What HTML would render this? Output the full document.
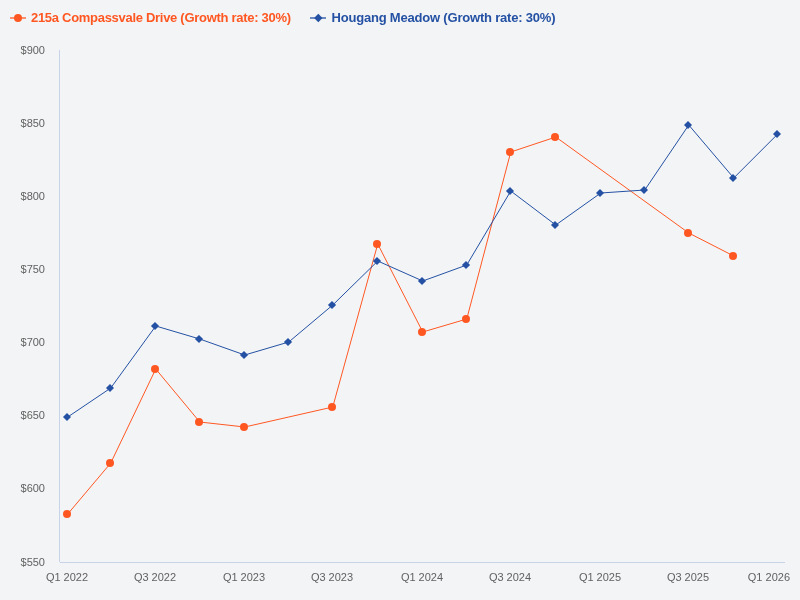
<!DOCTYPE html>
<html><head><meta charset="utf-8"><style>
html,body{margin:0;padding:0;background:#f3f4f6;width:800px;height:600px;overflow:hidden}
svg{display:block;will-change:transform;font-family:"Liberation Sans",sans-serif}
.yl{font-size:11px;fill:#616161}
.xl{font-size:11px;fill:#616161}
.lg{font-size:13px;font-weight:bold}
</style></head><body>
<svg width="800" height="600" viewBox="0 0 800 600">
<rect x="10" y="17" width="16" height="2" fill="#ff5722" opacity="0.65"/>
<circle cx="18" cy="18" r="4" fill="#ff5722"/>
<text x="31" y="22" class="lg" fill="#ff5722" textLength="260" lengthAdjust="spacing">215a Compassvale Drive (Growth rate: 30%)</text>
<rect x="310" y="17" width="16" height="2" fill="#2451a3" opacity="0.65"/>
<path d="M318.3 13.8L322.5 18L318.3 22.2L314.1 18Z" fill="#2451a3"/>
<text x="331.5" y="22" class="lg" fill="#2451a3" textLength="224" lengthAdjust="spacing">Hougang Meadow (Growth rate: 30%)</text>
<rect x="59" y="50" width="1" height="512" fill="#c8d3ea"/>
<rect x="60" y="562" width="725" height="1" fill="#c8d3ea"/>
<text x="45" y="54" text-anchor="end" class="yl">$900</text>
<text x="45" y="127" text-anchor="end" class="yl">$850</text>
<text x="45" y="200" text-anchor="end" class="yl">$800</text>
<text x="45" y="273" text-anchor="end" class="yl">$750</text>
<text x="45" y="346" text-anchor="end" class="yl">$700</text>
<text x="45" y="419" text-anchor="end" class="yl">$650</text>
<text x="45" y="492" text-anchor="end" class="yl">$600</text>
<text x="45" y="566" text-anchor="end" class="yl">$550</text>
<text x="67.0" y="581" text-anchor="middle" class="xl">Q1 2022</text>
<text x="155.0" y="581" text-anchor="middle" class="xl">Q3 2022</text>
<text x="244.0" y="581" text-anchor="middle" class="xl">Q1 2023</text>
<text x="332.0" y="581" text-anchor="middle" class="xl">Q3 2023</text>
<text x="422.0" y="581" text-anchor="middle" class="xl">Q1 2024</text>
<text x="510.0" y="581" text-anchor="middle" class="xl">Q3 2024</text>
<text x="600.0" y="581" text-anchor="middle" class="xl">Q1 2025</text>
<text x="688.0" y="581" text-anchor="middle" class="xl">Q3 2025</text>
<text x="790" y="581" text-anchor="end" class="xl">Q1 2026</text>
<polyline transform="translate(0.75,0)" fill="none" stroke="#ff5722" stroke-width="1" points="67.0,514.0 110.0,463.0 155.0,369.0 199.0,422.0 244.0,427.0 332.0,407.0 377.0,244.0 422.0,332.0 466.0,319.0 510.0,152.0 555.0,137.0 688.0,233.0 733.0,256.0"/>
<polyline transform="translate(0.75,0)" fill="none" stroke="#2451a3" stroke-width="1" points="67.0,417.0 110.0,388.0 155.0,326.0 199.0,339.0 244.0,355.0 288.0,342.0 332.0,305.0 377.0,261.0 422.0,281.0 466.0,265.0 510.0,191.0 555.0,225.0 600.0,193.0 644.0,190.0 688.0,125.0 733.0,178.0 777.0,134.0"/>
<circle cx="67.0" cy="514.0" r="4" fill="#ff5722"/>
<circle cx="110.0" cy="463.0" r="4" fill="#ff5722"/>
<circle cx="155.0" cy="369.0" r="4" fill="#ff5722"/>
<circle cx="199.0" cy="422.0" r="4" fill="#ff5722"/>
<circle cx="244.0" cy="427.0" r="4" fill="#ff5722"/>
<circle cx="332.0" cy="407.0" r="4" fill="#ff5722"/>
<circle cx="377.0" cy="244.0" r="4" fill="#ff5722"/>
<circle cx="422.0" cy="332.0" r="4" fill="#ff5722"/>
<circle cx="466.0" cy="319.0" r="4" fill="#ff5722"/>
<circle cx="510.0" cy="152.0" r="4" fill="#ff5722"/>
<circle cx="555.0" cy="137.0" r="4" fill="#ff5722"/>
<circle cx="688.0" cy="233.0" r="4" fill="#ff5722"/>
<circle cx="733.0" cy="256.0" r="4" fill="#ff5722"/>
<path d="M67.0 412.9L71.0 417.0L67.0 421.1L63.0 417.0Z" fill="#2451a3"/>
<path d="M110.0 383.9L114.0 388.0L110.0 392.1L106.0 388.0Z" fill="#2451a3"/>
<path d="M155.0 321.9L159.1 326.0L155.0 330.1L150.9 326.0Z" fill="#2451a3"/>
<path d="M199.0 334.9L203.1 339.0L199.0 343.1L194.9 339.0Z" fill="#2451a3"/>
<path d="M244.0 350.9L248.1 355.0L244.0 359.1L239.9 355.0Z" fill="#2451a3"/>
<path d="M288.0 337.9L292.1 342.0L288.0 346.1L283.9 342.0Z" fill="#2451a3"/>
<path d="M332.0 300.9L336.1 305.0L332.0 309.1L327.9 305.0Z" fill="#2451a3"/>
<path d="M377.0 256.9L381.1 261.0L377.0 265.1L372.9 261.0Z" fill="#2451a3"/>
<path d="M422.0 276.9L426.1 281.0L422.0 285.1L417.9 281.0Z" fill="#2451a3"/>
<path d="M466.0 260.9L470.1 265.0L466.0 269.1L461.9 265.0Z" fill="#2451a3"/>
<path d="M510.0 186.9L514.0 191.0L510.0 195.1L505.9 191.0Z" fill="#2451a3"/>
<path d="M555.0 220.9L559.0 225.0L555.0 229.1L551.0 225.0Z" fill="#2451a3"/>
<path d="M600.0 188.9L604.0 193.0L600.0 197.1L596.0 193.0Z" fill="#2451a3"/>
<path d="M644.0 185.9L648.0 190.0L644.0 194.1L640.0 190.0Z" fill="#2451a3"/>
<path d="M688.0 121.0L692.0 125.0L688.0 129.1L684.0 125.0Z" fill="#2451a3"/>
<path d="M733.0 173.9L737.0 178.0L733.0 182.1L729.0 178.0Z" fill="#2451a3"/>
<path d="M777.0 129.9L781.0 134.0L777.0 138.1L773.0 134.0Z" fill="#2451a3"/>
</svg>
</body></html>
